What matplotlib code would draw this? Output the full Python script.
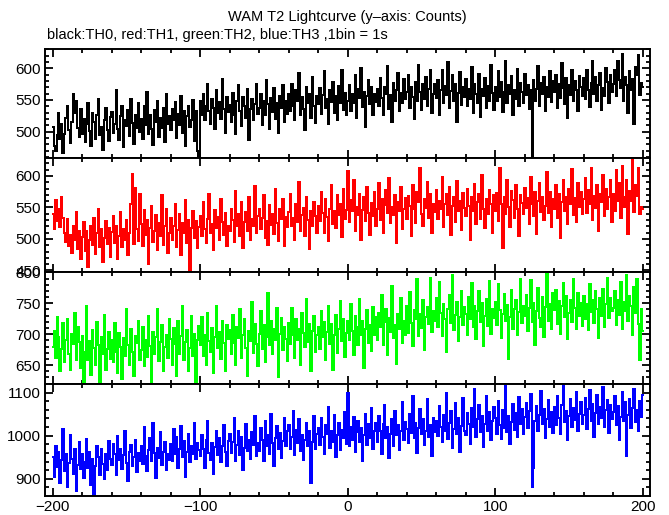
import numpy as np
import matplotlib
matplotlib.use("Agg")
import matplotlib.pyplot as plt
from matplotlib.ticker import MultipleLocator

# ---------------- data (counts per 1 s bin) ----------------
t_start = -200

th0 = [
    508, 478, 470, 495, 530, 488, 512, 466, 497, 521, 540, 503, 482, 515, 560, 529, 548, 506, 492, 536,
    497, 520, 483, 512, 545, 501, 478, 530, 515, 489, 526, 552, 494, 508, 471, 519, 537, 503, 486, 523,
    531, 498, 512, 566, 505, 487, 524, 541, 476, 518, 509, 535, 493, 552, 514, 481, 527, 506, 545, 499,
    520, 488, 540, 511, 563, 497, 527, 505, 479, 534, 516, 548, 492, 521, 506, 538, 484, 559, 512, 525,
    503, 536, 519, 547, 490, 528, 511, 556, 498, 532, 478, 524, 541, 507, 519, 550, 486, 533, 470, 462,
    548, 527, 560, 519, 541, 575, 533, 512, 552, 538, 505, 566, 529, 547, 520, 583, 536, 498, 554, 531,
    542, 515, 561, 526, 496, 548, 573, 532, 509, 555, 540, 522, 567, 487, 536, 551, 518, 544, 576, 528,
    537, 560, 511, 548, 526, 582, 543, 505, 553, 531, 569, 520, 546, 498, 557, 538, 574, 515, 549, 528,
    559, 532, 575, 541, 518, 566, 549, 592, 527, 554, 536, 503, 571, 545, 560, 522, 587, 540, 513, 556,
    543, 569, 528, 558, 596, 537, 551, 512, 565, 547, 579, 530, 556, 519, 572, 545, 598, 534, 561, 527,
    548, 574, 532, 560, 545, 589, 521, 567, 553, 600, 539, 562, 508, 557, 581, 543, 570, 526, 559, 547,
    568, 541, 585, 553, 527, 571, 560, 604, 536, 558, 515, 577, 549, 566, 592, 532, 561, 545, 583, 551,
    562, 590, 538, 571, 555, 520, 579, 548, 606, 563, 534, 575, 552, 587, 541, 568, 597, 529, 560, 576,
    553, 581, 527, 566, 598, 545, 572, 558, 610, 537, 564, 589, 548, 575, 516, 561, 594, 542, 570, 555,
    583, 540, 567, 551, 602, 529, 576, 560, 545, 591, 523, 568, 557, 585, 538, 572, 549, 605, 561, 534,
    570, 548, 596, 555, 578, 531, 563, 612, 546, 574, 559, 588, 527, 566, 552, 599, 540, 577, 563, 545,
    591, 558, 574, 536, 565, 452, 582, 549, 568, 603, 541, 577, 560, 586, 533, 571, 555, 596, 547, 580,
    562, 590, 538, 576, 553, 608, 569, 544, 585, 521, 573, 558, 597, 549, 580, 565, 532, 588, 571, 556,
    584, 551, 598, 566, 539, 577, 612, 560, 586, 548, 574, 593, 535, 569, 557, 601, 578, 546, 590, 563,
    575, 598, 556, 611, 582, 569, 622, 548, 587, 574, 530, 596, 565, 583, 512, 602, 590, 621, 558, 577,
    570,
]

th1 = [
    540, 515, 562, 528, 548, 519, 566, 534, 510, 495, 531, 489, 507, 478, 520, 499, 543, 484, 512, 468,
    503, 527, 481, 512, 455, 498, 521, 490, 534, 476, 509, 548, 487, 515, 463, 501, 529, 492, 518, 472,
    511, 537, 494, 520, 468, 505, 543, 488, 516, 498, 530, 474, 509, 556, 603, 492, 581, 515, 497, 572,
    524, 489, 546, 507, 530, 461, 518, 552, 495, 513, 538, 482, 526, 504, 569, 491, 520, 547, 478, 509,
    533, 498, 521, 556, 487, 514, 540, 475, 525, 509, 562, 493, 530, 451, 517, 544, 502, 528, 486, 519,
    537, 505, 558, 516, 494, 531, 572, 509, 524, 483, 546, 518, 535, 499, 563, 527, 506, 541, 489, 520,
    512, 548, 530, 495, 576, 521, 539, 504, 558, 486, 527, 543, 513, 567, 498, 532, 520, 584, 509, 536,
    547, 516, 533, 570, 502, 529, 491, 554, 522, 540, 508, 579, 525, 497, 548, 531, 563, 489, 535, 519,
    543, 571, 520, 534, 498, 556, 527, 590, 512, 538, 549, 505, 566, 530, 484, 545, 521, 559, 537, 509,
    552, 528, 575, 541, 510, 563, 535, 497, 548, 586, 523, 544, 517, 569, 538, 555, 503, 580, 531, 546,
    608, 527, 562, 544, 593, 513, 551, 538, 572, 498, 546, 566, 529, 583, 541, 507, 557, 536, 574, 520,
    548, 589, 530, 563, 509, 554, 577, 541, 596, 525, 551, 538, 570, 493, 559, 544, 582, 516, 547, 565,
    531, 568, 553, 504, 586, 547, 526, 575, 558, 612, 540, 521, 563, 549, 590, 534, 571, 509, 556, 543,
    577, 532, 561, 548, 598, 519, 555, 571, 538, 583, 506, 552, 566, 527, 592, 545, 560, 514, 573, 549,
    536, 580, 553, 499, 567, 544, 588, 523, 559, 571, 531, 602, 548, 517, 564, 540, 577, 555, 510, 569,
    545, 573, 528, 612, 556, 485, 567, 540, 594, 551, 519, 576, 562, 533, 585, 548, 505, 570, 557, 539,
    581, 549, 565, 524, 598, 556, 537, 574, 508, 560, 589, 543, 567, 530, 552, 606, 541, 575, 519, 563,
    548, 586, 533, 571, 502, 559, 594, 545, 567, 523, 580, 556, 611, 538, 565, 527, 589, 551, 574, 540,
    563, 597, 541, 578, 555, 612, 530, 568, 549, 585, 512, 571, 558, 602, 536, 579, 548, 566, 594, 527,
    572, 545, 609, 561, 589, 534, 615, 567, 551, 594, 508, 576, 560, 626, 543, 585, 568, 612, 539, 550,
    548,
]

th2 = [
    680, 705, 662, 728, 695, 640, 676, 718, 655, 690, 725, 668, 642, 700, 684, 735, 659, 712, 688, 646,
    697, 623, 672, 745, 658, 689, 634, 707, 677, 651, 720, 683, 616, 695, 668, 731, 642, 676, 704, 660,
    690, 655, 718, 671, 638, 702, 679, 627, 694, 665, 741, 683, 650, 709, 672, 632, 697, 686, 721, 658,
    675, 712, 649, 690, 663, 730, 681, 620, 704, 668, 695, 741, 657, 688, 715, 640, 679, 699, 662, 724,
    693, 651, 710, 684, 633, 722, 668, 697, 745, 659, 688, 706, 641, 678, 729, 665, 700, 623, 690, 714,
    682, 727, 664, 698, 651, 735, 689, 672, 710, 638, 695, 746, 677, 703, 660, 722, 686, 641, 715, 693,
    707, 668, 731, 685, 650, 712, 694, 740, 662, 699, 725, 678, 633, 705, 689, 752, 670, 716, 684, 648,
    701, 737, 676, 715, 655, 696, 766, 683, 722, 668, 709, 690, 742, 631, 700, 726, 674, 712, 693, 657,
    718, 684, 743, 699, 662, 725, 691, 708, 650, 734, 702, 679, 757, 688, 716, 640, 705, 729, 672, 698,
    711, 676, 738, 695, 720, 658, 703, 746, 684, 717, 642, 699, 731, 670, 708, 753, 689, 724, 663, 702,
    722, 691, 748, 705, 667, 730, 712, 682, 757, 699, 721, 646, 709, 739, 686, 715, 673, 744, 698, 728,
    690, 735, 712, 764, 683, 719, 741, 667, 726, 703, 778, 694, 715, 652, 732, 709, 758, 686, 721, 699,
    745, 702, 768, 718, 681, 739, 725, 789, 697, 733, 710, 756, 674, 728, 744, 716, 791, 703, 737, 722,
    758, 712, 784, 735, 697, 749, 725, 671, 741, 763, 718, 796, 706, 731, 752, 689, 727, 770, 715, 744,
    733, 698, 760, 724, 782, 711, 745, 692, 738, 769, 720, 750, 681, 729, 757, 713, 786, 701, 740, 726,
    752, 715, 781, 739, 694, 733, 765, 722, 747, 660, 728, 772, 709, 741, 755, 698, 736, 790, 718, 745,
    730, 763, 705, 742, 788, 719, 751, 683, 737, 774, 726, 712, 760, 695, 744, 797, 721, 748, 709, 766,
    739, 771, 716, 753, 700, 745, 782, 728, 761, 692, 734, 756, 719, 790, 742, 708, 767, 730, 751, 714,
    762, 724, 749, 707, 781, 736, 755, 718, 769, 741, 694, 758, 730, 773, 712, 748, 791, 726, 759, 737,
    743, 770, 715, 756, 731, 784, 709, 752, 738, 795, 722, 761, 745, 698, 777, 734, 789, 716, 658, 740,
    705,
]

th3 = [
    950, 905, 975, 928, 962, 890, 944, 1015, 918, 957, 880, 936, 1002, 945, 912, 968, 871, 931, 985, 922,
    958, 901, 940, 993, 925, 963, 885, 947, 862, 929, 976, 951, 908, 970, 934, 899, 958, 921, 987, 945,
    932, 981, 957, 910, 1000, 943, 968, 922, 955, 1012, 937, 896, 962, 978, 929, 951, 990, 915, 960, 941,
    975, 934, 1020, 952, 918, 967, 995, 941, 1030, 960, 903, 972, 948, 1008, 931, 963, 985, 920, 957, 944,
    980, 942, 1015, 958, 997, 925, 970, 1022, 950, 988, 904, 962, 1005, 939, 975, 957, 1030, 946, 983, 966,
    952, 1001, 968, 925, 990, 1035, 961, 944, 982, 912, 973, 1010, 956, 995, 938, 977, 1024, 962, 929, 988,
    1003, 960, 985, 1040, 942, 978, 1012, 955, 996, 920, 971, 1026, 964, 989, 945, 1008, 979, 1045, 952, 983,
    965, 1018, 990, 942, 1034, 977, 1001, 958, 1050, 983, 930, 995, 1022, 969, 1007, 948, 988, 1041, 975, 1012,
    1025, 970, 998, 1057, 955, 1014, 982, 1038, 964, 1002, 943, 991, 1030, 976, 1011, 890, 985, 1046, 968, 1005,
    1018, 979, 1040, 996, 958, 1024, 1004, 1066, 972, 1010, 985, 1048, 950, 1001, 1029, 967, 1013, 994, 1055, 980,
    1100, 975, 1021, 990, 1043, 962, 1008, 1035, 985, 1017, 941, 1002, 1051, 979, 1026, 995, 1064, 970, 1012, 1030,
    986, 1045, 1010, 958, 1027, 1070, 995, 1019, 948, 1004, 1038, 977, 1058, 1001, 1024, 966, 1012, 1079, 990, 1032,
    1015, 982, 1050, 1007, 1092, 994, 1029, 960, 1018, 1061, 1003, 1039, 978, 1011, 1085, 997, 1025, 952, 1042, 1009,
    1034, 1000, 1068, 1021, 985, 1047, 1012, 1098, 993, 1030, 1058, 971, 1016, 1075, 1005, 1040, 962, 1023, 1088, 1010,
    1001, 1052, 1027, 980, 1064, 1019, 1109, 996, 1038, 1070, 1008, 1045, 973, 1026, 1091, 1012, 1055, 990, 1033, 1067,
    1040, 1003, 1081, 1025, 992, 1060, 1017, 1115, 1009, 1046, 981, 1032, 1073, 1014, 1052, 998, 1090, 1027, 1062, 1005,
    1044, 1075, 1018, 1058, 1096, 880, 925, 1035, 1068, 1012, 1049, 1104, 1026, 1061, 995, 1038, 1083, 1020, 1055, 1007,
    1066, 1025, 1093, 1040, 1003, 1072, 1118, 1031, 1057, 990, 1045, 1085, 1019, 1063, 1036, 1101, 1011, 1050, 1078, 1028,
    1047, 1088, 1016, 1062, 1105, 1033, 1074, 998, 1052, 1095, 1027, 1066, 1041, 1112, 1020, 1059, 1083, 1006, 1070, 1038,
    1055, 1092, 1024, 1068, 990, 1043, 1101, 1035, 1077, 952, 1049, 1086, 1018, 1064, 1108, 1031, 1060, 1012, 1081, 1043,
    1095,
]

series = [th0, th1, th2, th3]
colors = ["#000000", "#ff0000", "#00ff00", "#0000ff"]
ylims = [(458, 630), (448, 628), (619, 801), (861, 1119)]
ymajor = [50, 50, 50, 100]
yminor = [10, 10, 10, 20]

title = "WAM T2 Lightcurve (y\u2013axis: Counts)"
subtitle = "black:TH0, red:TH1, green:TH2, blue:TH3 ,1bin = 1s"

# ---------------- figure ----------------
plt.rcParams["font.family"] = ["Liberation Sans", "DejaVu Sans"]
W, H = 669, 515
fig = plt.figure(figsize=(W / 100, H / 100), dpi=100)

left_px, right_px = 45, 650
edges = [49.3, 158.3, 271.7, 384.3, 495.7]

axes = []
for i in range(4):
    top, bot = edges[i], edges[i + 1]
    ax = fig.add_axes([left_px / W, 1 - bot / H, (right_px - left_px) / W, (bot - top) / H])
    y = series[i]
    x = t_start + np.arange(len(y))
    ax.plot(x, y, color=colors[i], lw=1.3, drawstyle="steps-mid", antialiased=False)
    ax.set_xlim(-205.3, 204.8)
    ax.set_ylim(*ylims[i])
    ax.xaxis.set_major_locator(MultipleLocator(100))
    ax.xaxis.set_minor_locator(MultipleLocator(20))
    ax.yaxis.set_major_locator(MultipleLocator(ymajor[i]))
    ax.yaxis.set_minor_locator(MultipleLocator(yminor[i]))
    ax.tick_params(which="both", direction="in", top=True, right=True, width=1.3, colors="black")
    ax.tick_params(which="major", length=6)
    ax.tick_params(which="minor", length=3)
    ax.tick_params(axis="both", labelsize=11, pad=3)
    if i < 3:
        ax.tick_params(axis="x", labelbottom=False)
    for s in ax.spines.values():
        s.set_linewidth(1.4)
    axes.append(ax)

fig.text(347 / W, 1 - 17 / H, title, ha="center", va="center", fontsize=10.5)
fig.text(47 / W, 1 - 35 / H, subtitle, ha="left", va="center", fontsize=10.5)

fig.savefig("out.png", dpi=100)
